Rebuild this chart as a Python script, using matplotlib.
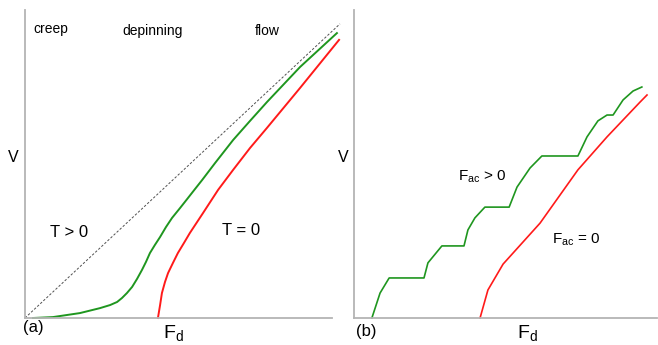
import matplotlib
matplotlib.use("Agg")
import matplotlib.pyplot as plt

plt.rcParams["font.family"] = ["Liberation Sans", "DejaVu Sans"]
plt.rcParams["mathtext.fontset"] = "custom"
plt.rcParams["mathtext.rm"] = "Liberation Sans"

# panel (a): velocity-force curves, T > 0 vs T = 0
fd_warm = [0.26, 0.91, 1.79, 2.44, 2.77, 3.00, 3.16, 3.32, 3.49, 3.65, 3.81,
           3.94, 4.07, 4.23, 4.40, 4.59, 4.79, 5.05, 5.28, 5.54, 5.77, 6.19,
           6.78, 7.33, 7.88, 8.96, 10.16]
v_warm = [0.00, 0.03, 0.16, 0.32, 0.42, 0.52, 0.65, 0.81, 1.01, 1.27, 1.56,
          1.82, 2.11, 2.37, 2.63, 2.95, 3.25, 3.57, 3.86, 4.19, 4.48, 5.03,
          5.78, 6.40, 7.01, 8.15, 9.25]
fd_cold = [4.33, 4.40, 4.46, 4.56, 4.66, 4.82, 4.98, 5.18, 5.37, 5.80, 6.29,
           6.78, 7.33, 7.88, 8.96, 10.23]
v_cold = [0.00, 0.42, 0.81, 1.17, 1.46, 1.79, 2.11, 2.44, 2.76, 3.41, 4.16,
          4.81, 5.52, 6.17, 7.47, 9.03]
fd_free = [0.0, 10.26]
v_free = [0.0, 9.55]

# panel (b): with and without ac drive (Shapiro-like steps)
fd_ac = [0.59, 0.86, 1.16, 2.31, 2.44, 2.90, 3.63, 3.76, 3.99, 4.32, 5.12,
         5.38, 5.81, 6.20, 7.39, 7.69, 8.05, 8.35, 8.55, 8.88, 9.21, 9.50]
v_ac = [0.00, 0.81, 1.30, 1.30, 1.79, 2.34, 2.34, 2.86, 3.25, 3.60, 3.60,
        4.25, 4.87, 5.26, 5.26, 5.88, 6.40, 6.59, 6.59, 7.08, 7.37, 7.50]
fd_dc = [4.16, 4.42, 4.92, 6.14, 7.39, 8.35, 9.44, 9.67]
v_dc = [0.00, 0.91, 1.75, 3.08, 4.81, 5.88, 7.01, 7.24]

GREEN = "#1f961f"
RED = "#ff1a1a"
AXIS = "#b4b4b4"

fig = plt.figure(figsize=(6.58, 3.45), dpi=100)
ax1 = fig.add_axes([25 / 658, 27 / 345, 307 / 658, 308 / 345])
ax2 = fig.add_axes([354 / 658, 27 / 345, 303 / 658, 308 / 345])

for ax in (ax1, ax2):
    ax.set_xlim(0, 10)
    ax.set_ylim(0, 10)
    ax.set_xticks([])
    ax.set_yticks([])
    for side in ("top", "right"):
        ax.spines[side].set_visible(False)
    for side in ("left", "bottom"):
        ax.spines[side].set_color(AXIS)
        ax.spines[side].set_linewidth(1.3)
    ax.patch.set_alpha(0)

ax1.plot(fd_free, v_free, color="#505050", lw=0.7, ls=(0, (2.5, 1.8)), clip_on=False)
ax1.plot(fd_warm, v_warm, color=GREEN, lw=1.4, clip_on=False,
         solid_joinstyle="round")
ax1.plot(fd_cold, v_cold, color=RED, lw=1.4, clip_on=False,
         solid_joinstyle="round")

ax2.plot(fd_ac, v_ac, color=GREEN, lw=1.2, clip_on=False)
ax2.plot(fd_dc, v_dc, color=RED, lw=1.2, clip_on=False)

# labels, panel (a)
ax1.text(0.26, 9.25, "creep", fontsize=10, ha="left", va="baseline")
ax1.text(3.16, 9.19, "depinning", fontsize=10, ha="left", va="baseline")
ax1.text(7.49, 9.19, "flow", fontsize=10, ha="left", va="baseline")
ax1.text(0.81, 2.63, "T > 0", fontsize=12, ha="left", va="baseline")
ax1.text(6.42, 2.69, "T = 0", fontsize=12, ha="left", va="baseline")
ax1.text(-0.39, 5.06, "V", fontsize=11.5, ha="center", va="baseline")
ax1.text(0.26, -0.31, "(a)", fontsize=12, ha="center", va="center")
ax1.text(4.5, -0.2, r"F$_\mathregular{d}$", fontsize=14, ha="left", va="top")

# labels, panel (b)
ax2.text(3.43, 4.48, r"F$_\mathregular{ac}$ > 0", fontsize=11, ha="left", va="baseline")
ax2.text(6.53, 2.44, r"F$_\mathregular{ac}$ = 0", fontsize=11, ha="left", va="baseline")
ax2.text(-0.36, 5.06, "V", fontsize=11.5, ha="center", va="baseline")
ax2.text(0.40, -0.45, "(b)", fontsize=12, ha="center", va="center")
ax2.text(5.38, -0.2, r"F$_\mathregular{d}$", fontsize=14, ha="left", va="top")

fig.savefig("out.png", dpi=100)
